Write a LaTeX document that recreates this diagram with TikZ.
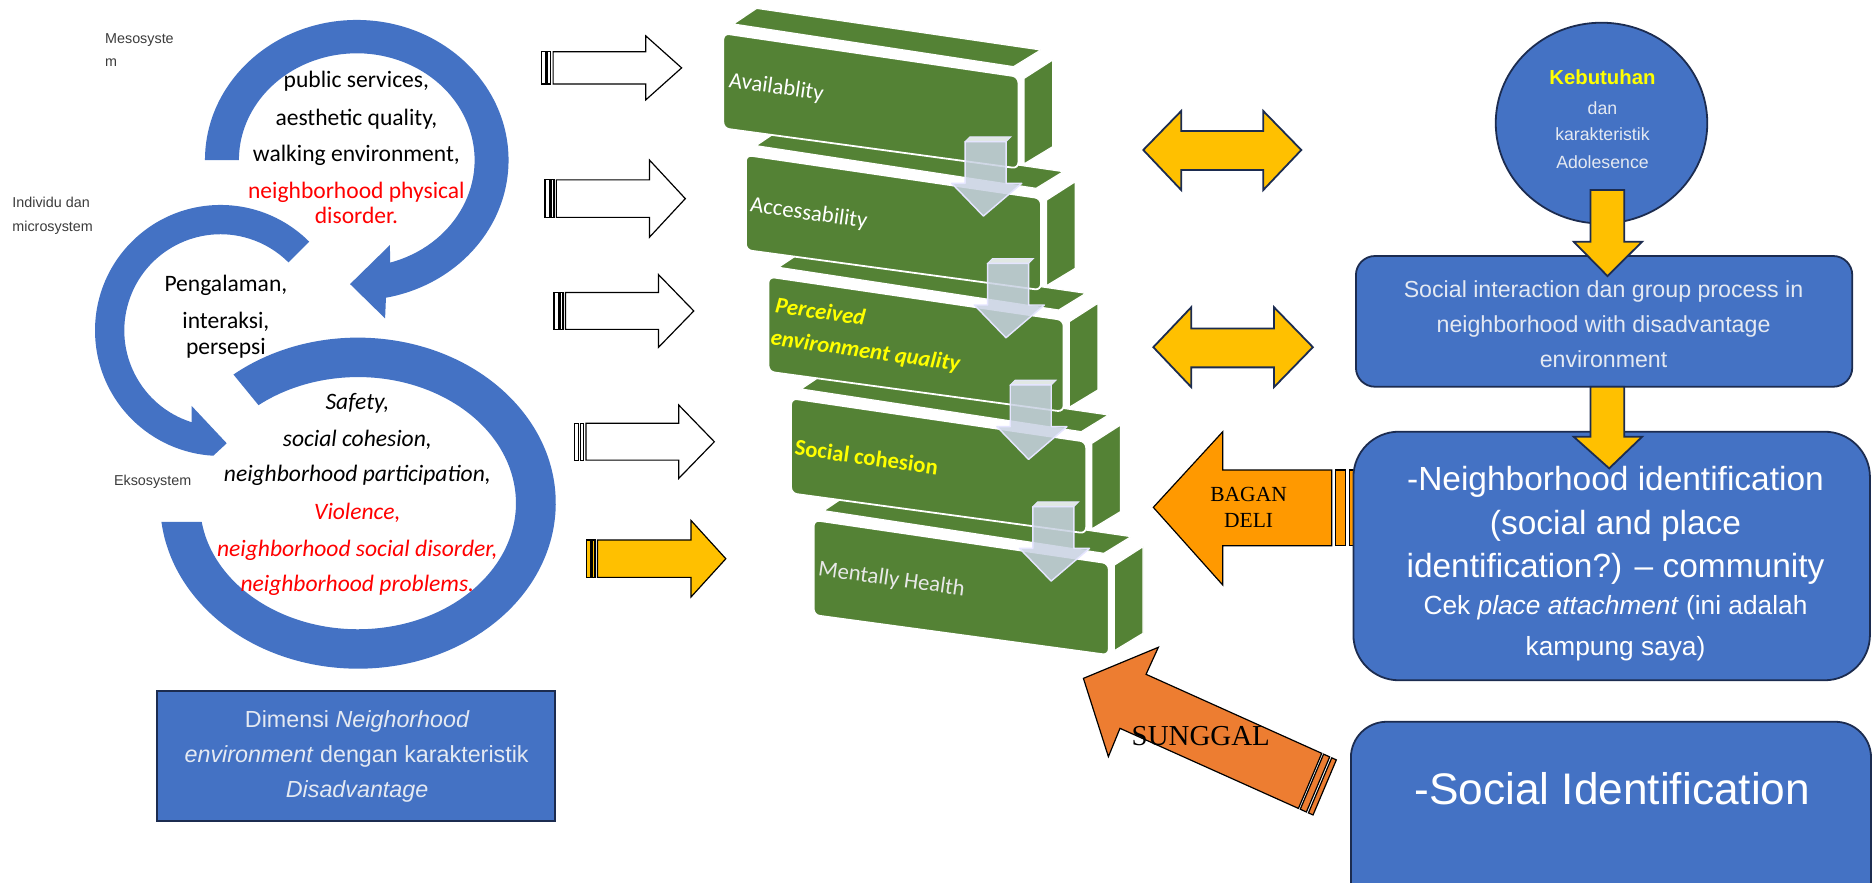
\documentclass[tikz,border=0pt]{standalone}
\usepackage{fontspec}
\setmainfont{Carlito}
\newfontfamily\lsans{Liberation Sans}
\newfontfamily\lserif{Liberation Serif}
\usetikzlibrary{calc,shapes.geometric}
\definecolor{arcblue}{HTML}{4472C4}
\definecolor{navy}{RGB}{28,44,80}
\definecolor{stepgreen}{HTML}{548235}
\definecolor{gold}{HTML}{FFC000}
\definecolor{orangeA}{HTML}{FF9900}
\definecolor{orangeB}{HTML}{ED7D31}
\definecolor{labelgray}{RGB}{60,60,60}
\definecolor{lighttext}{RGB}{228,233,242}
\definecolor{downfill}{RGB}{200,210,226}
\definecolor{txtyellow}{HTML}{FFFF00}
\definecolor{txtred}{HTML}{FF0000}
\newcommand\myfs[1]{\fontsize{#1}{#1}\selectfont}
% tail x, centre y, shaft half, head half, head base x, tip x, fill
\newcommand\myRArrow[7]{%
  \filldraw[fill=#7,draw=black,line width=1] (#1,#2-#3) rectangle (#1+3.5,#2+#3);
  \filldraw[fill=#7,draw=black,line width=1] (#1+5,#2-#3) rectangle (#1+7.5,#2+#3);
  \filldraw[fill=#7,draw=black,line width=1,line join=miter] (#1+9.5,#2-#3) -- (#5,#2-#3) -- (#5,#2-#4) -- (#6,#2) -- (#5,#2+#4) -- (#5,#2+#3) -- (#1+9.5,#2+#3) -- cycle;}
\begin{document}
\begin{tikzpicture}[x=1pt,y=-1pt,
  every node/.style={inner sep=0pt,outer sep=0pt},
  arct/.style={anchor=base,font=\myfs{19.7}},
  arcti/.style={anchor=base,font=\myfs{19.7}\itshape},
  lbl/.style={anchor=base west,font=\lsans\myfs{12},text=labelgray},
  boxt/.style={anchor=base,font=\lsans\myfs{19.5},text=lighttext},
  steptext/.style={anchor=center,font=\myfs{19},rotate=-8},
  bluebox/.style={draw=navy,fill=arcblue,line width=1.5},
  goldshape/.style={fill=gold,draw=navy,line width=1.5,line join=miter}]
\useasboundingbox (0,0) rectangle (1568,738);
\clip (0,0) rectangle (1568,738);
\fill[white] (0,0) rectangle (1568,738);

% ---------- left: circular arrows ----------
\fill[arcblue] ($(298.5,134)+(180:127 and 117.3)$) arc[start angle=180, end angle=438.9, x radius=127, y radius=117.3]
  -- (322.2,266.4) -- (292.9,237.7) -- (326.3,205)
  -- ($(298.5,134)+(73.6:98.6 and 89.4)$) arc[start angle=73.6, end angle=-180, x radius=98.6, y radius=89.4] -- cycle;
\fill[arcblue] ($(184.5,276.5)+(-45:105)$) arc[start angle=-45, end angle=-266.7, radius=105]
  -- (189.7,370.9) -- (160.4,339.7)
  -- ($(184.5,276.5)+(-252.6:80.5)$) arc[start angle=-252.6, end angle=-45, radius=80.5] -- cycle;
\fill[arcblue] ($(299.5,421)+(-129:165.5 and 138.5)$) arc[start angle=-129, end angle=173.5, x radius=165.5, y radius=138.5]
  -- ($(299.5,421)+(171.5:132.2 and 105.5)$) arc[start angle=171.5, end angle=-129, x radius=132.2, y radius=105.5] -- cycle;

\node[lbl] (meso) at (88,36) {Mesosyste};
\node[lbl] (meso2) at (88,55.6) {m};
\node[lbl] (indiv) at (10.4,173.6) {Individu dan};
\node[lbl] (micro) at (10.4,193.7) {microsystem};
\node[lbl] (ekso) at (95.4,406.2) {Eksosystem};

\node[arct] (m1) at (298.2,73.5) {public services,};
\node[arct] (m2) at (298.2,104.7) {aesthetic quality,};
\node[arct] (m3) at (298.2,135.4) {walking environment,};
\node[arct,text=txtred] (m4) at (298.2,166.1) {neighborhood physical};
\node[arct,text=txtred] (m5) at (298.2,187.3) {disorder.};

\node[arct] (p1) at (189,243.5) {Pengalaman,};
\node[arct] (p2) at (189,274.8) {interaksi,};
\node[arct] (p3) at (189,296.5) {persepsi};

\node[arcti] (e1) at (299,342.5) {Safety,};
\node[arcti] (e2) at (299,373.2) {social cohesion,};
\node[arcti] (e3) at (299,403.1) {neighborhood participation,};
\node[arcti,text=txtred] (e4) at (299,434.5) {Violence,};
\node[arcti,text=txtred] (e5) at (299,465.3) {neighborhood social disorder,};
\node[arcti,text=txtred] (e6) at (299,494.5) {neighborhood problems.};

\node[draw=navy,fill=arcblue,line width=1.5,minimum width=332.8,minimum height=108.7] (dimbox) at (298,632.35) {};
\node[boxt] (d1) at (299,608.8) {Dimensi \textit{Neighorhood}};
\node[boxt] (d2) at (298.4,638.1) {\textit{environment} dengan karakteristik};
\node[boxt] (d3) at (298.8,667.4) {\textit{Disadvantage}};

% ---------- striped right arrows ----------
\myRArrow{453.3}{56.8}{13.5}{26.8}{540.3}{570.3}{white}
\myRArrow{456}{166.2}{15.7}{32.3}{543.4}{573.4}{white}
\myRArrow{463.6}{260.2}{15.4}{30.4}{551}{580.5}{white}
\myRArrow{480.8}{369.6}{15.4}{30.7}{567.9}{597.7}{white}
\myRArrow{490.4}{467.5}{15.6}{32.1}{578.1}{607.3}{gold}

% ---------- green steps ----------
\foreach \i in {4,3,2,1,0}{
  \begin{scope}[shift={(18.9*\i,101.8*\i)}]
    \filldraw[fill=stepgreen,draw=white,line width=1] (613.6,20.1) -- (633.1,7) -- (870.8,41.8) -- (848,55.8) -- cycle;
    \filldraw[fill=stepgreen,draw=white,line width=1] (856.8,65.6) -- (880.8,50.2) -- (880.8,122.7) -- (856.8,137.2) -- cycle;
    \filldraw[fill=stepgreen,draw=white,line width=1.5,rounded corners=5] (605.2,27.9) -- (852.1,64.2) -- (852.1,140.9) -- (605.2,107.4) -- cycle;
  \end{scope}}
\foreach \i in {0,1,2,3}{
  \begin{scope}[shift={(18.9*\i,101.8*\i)}]
    \filldraw[fill=white!75!downfill,fill opacity=0.9,draw=white!90!blue,line width=0.8] (807.5,118.5) -- (811.5,114.5) -- (845.8,114.5) -- (841.8,118.5) -- cycle;
    \filldraw[fill=downfill,fill opacity=0.85,draw=white!90!blue,line width=1.2,line join=round] (807.5,118.5) -- (841.8,118.5) -- (841.8,153.4) -- (854.9,153.4) -- (822.8,180.8) -- (796.3,153.4) -- (807.5,153.4) -- cycle;
  \end{scope}}
\node[steptext,text=white] (s1) at (649.5,73.5) {Availablity};
\node[steptext,text=white] (s2) at (676.7,179) {Accessability};
\node[steptext,text=txtyellow,align=left,font=\fontsize{19}{27}\selectfont\bfseries\itshape] (s3) at (726,281) {Perceived\\environment quality};
\node[steptext,text=txtyellow,font=\myfs{19}\bfseries] (s4) at (725,382.4) {Social cohesion};
\node[steptext,text={rgb,255:red,232;green,232;blue,232}] (s5) at (746,485) {Mentally Health};

% ---------- right side ----------
\filldraw[goldshape] (956.6,125.5) -- (988.3,92.9) -- (988.3,109.6) -- (1057,109.6) -- (1057,92.9) -- (1088.8,125.5) -- (1057,159) -- (1057,142.3) -- (988.3,142.3) -- (988.3,159) -- cycle;
\filldraw[goldshape] (965,290.5) -- (996.8,257) -- (996.8,274.8) -- (1065.9,274.8) -- (1065.9,257) -- (1098.5,290.5) -- (1065.9,324) -- (1065.9,307.4) -- (996.8,307.4) -- (996.8,324) -- cycle;

\node[bluebox,rounded corners=16,minimum width=415.3,minimum height=109.4] (sibox) at (1342.15,268.9) {};
\node[boxt,font=\lsans\myfs{19.4}] (si1) at (1341.7,249.1) {Social interaction dan group process in};
\node[boxt,font=\lsans\myfs{19.4}] (si2) at (1341.7,278.4) {neighborhood with disadvantage};
\node[boxt,font=\lsans\myfs{19.4}] (si3) at (1341.7,307.4) {environment};

\node[bluebox,ellipse,minimum width=177,minimum height=168] (circ) at (1340,103) {};
\node[anchor=base,font=\lsans\myfs{17}\bfseries,text=txtyellow] (c1) at (1340.8,71.1) {Kebutuhan};
\node[boxt,font=\lsans\myfs{14.8}] (c2) at (1340.8,95.6) {dan};
\node[boxt,font=\lsans\myfs{14.8}] (c3) at (1340.8,117.9) {karakteristik};
\node[boxt,font=\lsans\myfs{14.8}] (c4) at (1340.8,140.7) {Adolesence};

\filldraw[goldshape] (1330.7,159) -- (1359,159) -- (1359,202.2) -- (1374,202.2) -- (1345,231) -- (1316.7,202.2) -- (1330.7,202.2) -- cycle;

% BAGAN DELI arrow
\filldraw[fill=orangeA,draw=black,line width=1,line join=miter] (965,424.5) -- (1023.1,361.2) -- (1023.1,393.3) -- (1114.2,393.3) -- (1114.2,456.6) -- (1023.1,456.6) -- (1023.1,489.5) -- cycle;
\filldraw[fill=orangeA,draw=black,line width=1] (1117.6,393.3) rectangle (1126.1,456.6);
\filldraw[fill=orangeA,draw=black,line width=1] (1129,393.3) rectangle (1134.5,456.6);
\node[anchor=base,font=\lserif\myfs{18}] (bg1) at (1044.7,419.4) {BAGAN};
\node[anchor=base,font=\lserif\myfs{18}] (bg2) at (1044.7,441.1) {DELI};

\node[bluebox,rounded corners=38,minimum width=432.2,minimum height=208] (nibox) at (1348.5,465.2) {};
\node[boxt,font=\lsans\myfs{28},text=white] (n1) at (1351.7,410.8) {-Neighborhood identification};
\node[boxt,font=\lsans\myfs{28},text=white] (n2) at (1351.7,447.1) {(social and place};
\node[boxt,font=\lsans\myfs{28},text=white] (n3) at (1351.7,483.4) {identification?) – community};
\node[boxt,font=\lsans\myfs{22},text=white] (n4) at (1351.7,514.3) {Cek \textit{place attachment} (ini adalah};
\node[boxt,font=\lsans\myfs{22},text=white] (n5) at (1351.7,548.3) {kampung saya)};

\filldraw[goldshape] (1330.7,323.6) -- (1359,323.6) -- (1359,365.4) -- (1374,365.4) -- (1346.4,391.9) -- (1316.7,365.4) -- (1330.7,365.4) -- cycle;

\node[bluebox,rounded corners=30,minimum width=435.2,minimum height=166.1] (sidbox) at (1347.9,686.95) {};
\node[boxt,font=\lsans\myfs{37},text=white] (sid) at (1349,673.2) {-Social Identification};

% SUNGGAL arrow
\filldraw[fill=orangeB,draw=black,line width=1,line join=miter] (906.5,567.6) -- (969.2,541.6) -- (958.9,564.2) -- (1105.9,630.3) -- (1086.4,676.4) -- (937.1,609.4) -- (927.4,633.1) -- cycle;
\filldraw[fill=orangeB,draw=black,line width=1] (1107.45,631.0) -- (1112.56,633.29) -- (1093.06,679.39) -- (1087.95,677.1) -- cycle;
\filldraw[fill=orangeB,draw=black,line width=1] (1114.29,634.07) -- (1118.12,635.79) -- (1098.62,681.89) -- (1094.79,680.17) -- cycle;
\node[anchor=base,font=\lserif\myfs{24.2}] (sg) at (1004.7,623.6) {SUNGGAL};
\end{tikzpicture}
\end{document}
